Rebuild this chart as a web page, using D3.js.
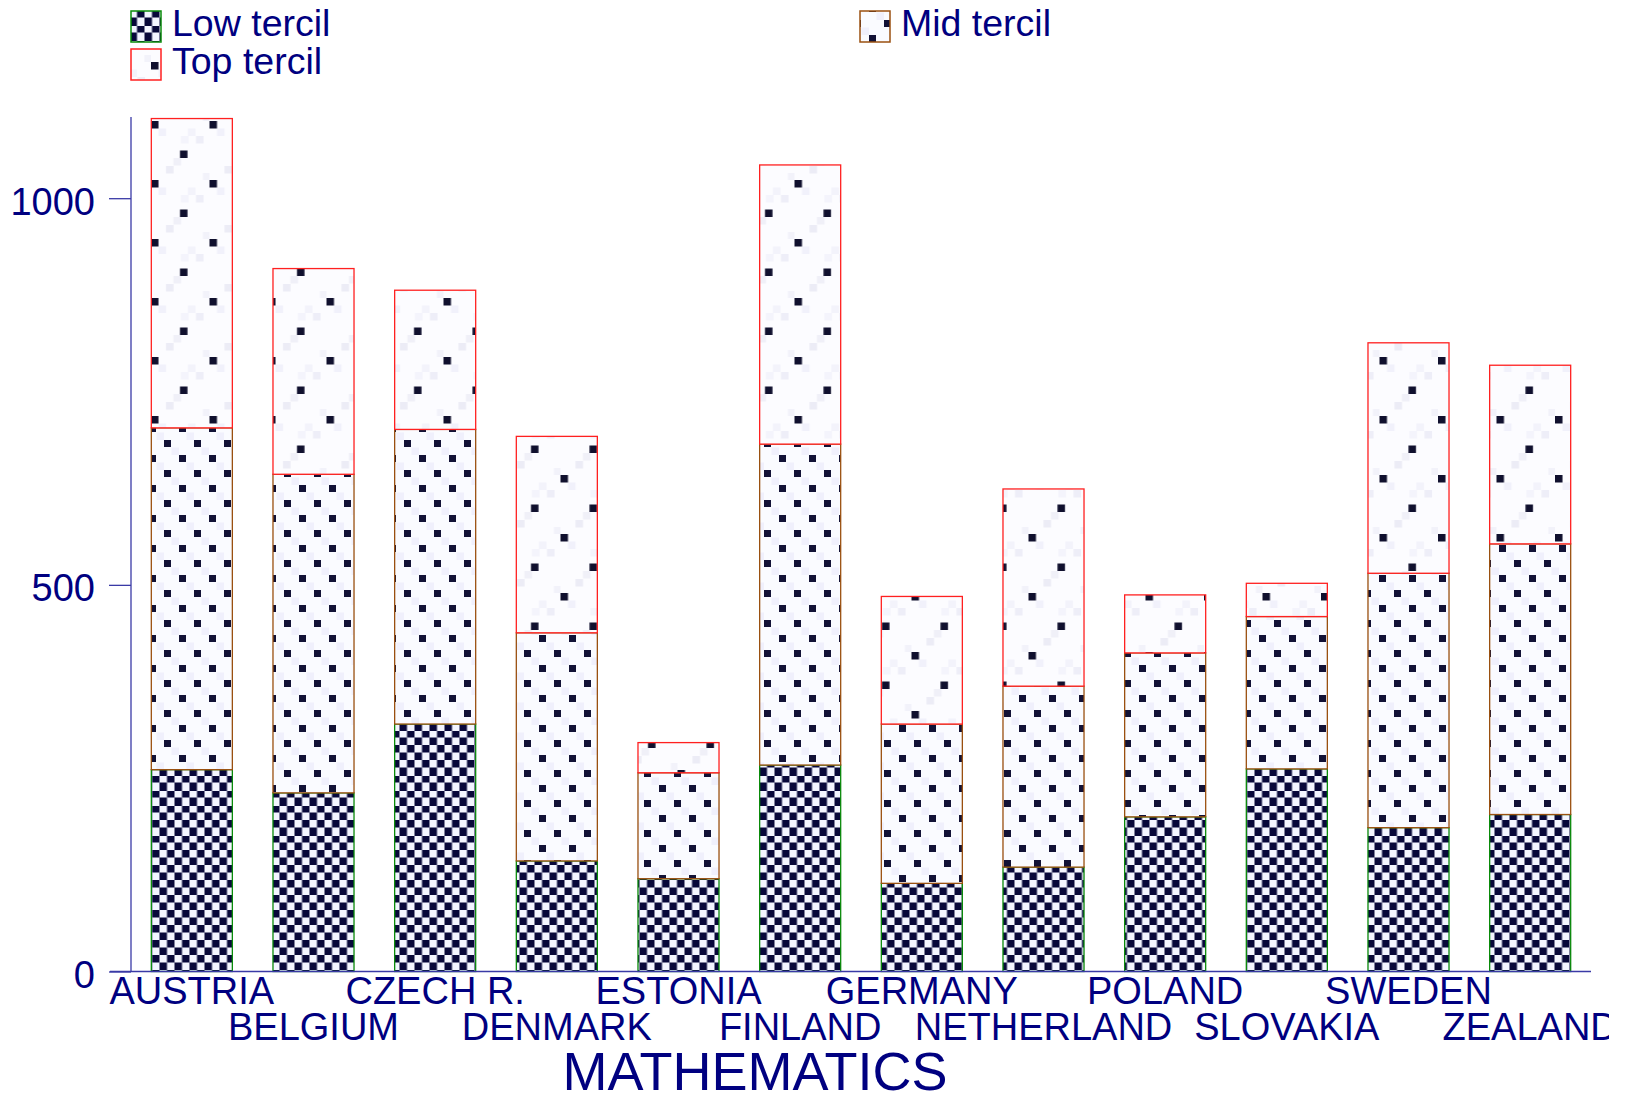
<!DOCTYPE html>
<html><head><meta charset="utf-8">
<script src="https://cdn.jsdelivr.net/npm/d3@7"></script>
<style>html,body{margin:0;padding:0;background:#fff;overflow:hidden}svg{display:block}</style>
</head><body>
<script>
const categories = ["AUSTRIA","BELGIUM","CZECH R.","DENMARK","ESTONIA","FINLAND","GERMANY","NETHERLAND","POLAND","SLOVAKIA","SWEDEN","ZEALAND"];
const lowTercil = [261, 231, 320, 143, 120, 267, 114, 135, 200, 262, 186, 203];
const midTercil = [442, 412, 381, 295, 137, 415, 206, 234, 212, 197, 329, 350];
const topTercil = [400, 266, 180, 254, 39, 361, 165, 255, 75, 43, 298, 231];
const seriesNames = ["Low tercil", "Mid tercil", "Top tercil"];
const yTicks = [0, 500, 1000];
const axisTitle = "MATHEMATICS";

const W = 1609, H = 1094;
const navy = "#000080";
const strokes = {"Low tercil": "#0a8a0a", "Mid tercil": "#9a5010", "Top tercil": "#ff2020"};
const patIds = {"Low tercil": "patLow", "Mid tercil": "patMid", "Top tercil": "patTop"};

const svg = d3.select("body").append("svg").attr("width", W).attr("height", H);
const defs = svg.append("defs");

// patterns
const pl = defs.append("pattern").attr("id", "patLow").attr("patternUnits", "userSpaceOnUse")
  .attr("x", 159.5).attr("y", 880).attr("width", 15).attr("height", 15);
pl.append("rect").attr("width", 15).attr("height", 15).attr("fill", "#f3f5ff");
pl.append("rect").attr("x", 0).attr("y", 7.5).attr("width", 7.5).attr("height", 7.5).attr("fill", "#08083a");
pl.append("rect").attr("x", 7.5).attr("y", 0).attr("width", 7.5).attr("height", 7.5).attr("fill", "#08083a");

const pm = defs.append("pattern").attr("id", "patMid").attr("patternUnits", "userSpaceOnUse")
  .attr("x", 164).attr("y", 560).attr("width", 30).attr("height", 30);
pm.append("rect").attr("width", 30).attr("height", 30).attr("fill", "#fafbff");
pm.append("rect").attr("x", 7.5).attr("y", 7.5).attr("width", 7.5).attr("height", 7.5).attr("fill", "#f0f0fc");
pm.append("rect").attr("x", 22.5).attr("y", 22.5).attr("width", 7.5).attr("height", 7.5).attr("fill", "#f0f0fc");
pm.append("rect").attr("x", 0).attr("y", 0).attr("width", 7).attr("height", 7).attr("fill", "#121236");
pm.append("rect").attr("x", 15).attr("y", 15).attr("width", 7).attr("height", 7).attr("fill", "#121236");

const pt = defs.append("pattern").attr("id", "patTop").attr("patternUnits", "userSpaceOnUse")
  .attr("x", 151).attr("y", 121).attr("width", 58.5).attr("height", 59);
pt.append("rect").attr("width", 58.5).attr("height", 59).attr("fill", "#fcfcff");
[[7.5,7.5,"#f1f1fb"],[37,7.5,"#f3f3fb"],[45,15,"#eeeef8"],[15,45,"#ececf6"],[22.5,37,"#f0f0f8"],[52,52,"#f2f2fa"],[30,15,"#f4f4fc"]]
  .forEach(([x,y,c]) => pt.append("rect").attr("x", x).attr("y", y).attr("width", 7.5).attr("height", 7.5).attr("fill", c));
pt.append("rect").attr("x", 0).attr("y", 0).attr("width", 7.5).attr("height", 7.5).attr("fill", "#10102e");
pt.append("rect").attr("x", 29).attr("y", 29.5).attr("width", 7.5).attr("height", 7.5).attr("fill", "#10102e");

// data table
const table = categories.map((c, i) => ({cat: c, "Low tercil": lowTercil[i], "Mid tercil": midTercil[i], "Top tercil": topTercil[i]}));
const stack = d3.stack().keys(seriesNames)(table);

const x = d3.scaleBand().domain(categories).range([131, 1591]).paddingInner(0.334).paddingOuter(0.167);
const y = d3.scaleLinear().domain([0, 1105]).range([971.5, 117]);

// bars
stack.forEach(layer => {
  svg.append("g").selectAll("rect").data(layer).join("rect")
    .attr("x", d => x(d.data.cat))
    .attr("y", d => y(d[1]))
    .attr("width", x.bandwidth())
    .attr("height", d => y(d[0]) - y(d[1]))
    .attr("fill", `url(#${patIds[layer.key]})`)
    .attr("stroke", strokes[layer.key])
    .attr("stroke-width", 1.3);
});

// y axis
const yAxis = d3.axisLeft(y).tickValues(yTicks).tickSize(22).tickPadding(14).tickFormat(d3.format("d"));
const gy = svg.append("g").attr("transform", "translate(131,0)").call(yAxis);
gy.select(".domain").attr("stroke", "#3a3aa6").attr("stroke-width", 1.3).attr("d", `M0,117V${y(0)}`);
gy.selectAll(".tick line").attr("stroke", "#3a3aa6").attr("stroke-width", 1.3);
gy.selectAll(".tick text").attr("fill", navy).attr("font-size", 38).attr("dy", "0.42em")
  .attr("font-family", "'Liberation Sans', Arial, Helvetica, sans-serif");

// x axis
const xAxis = d3.axisBottom(x).tickSize(0).tickPadding(0);
const gx = svg.append("g").attr("transform", `translate(0,${y(0)})`).call(xAxis);
gx.select(".domain").attr("stroke", "#3a3aa6").attr("stroke-width", 1.3).attr("d", "M110,0H1591");
gx.selectAll(".tick text").attr("fill", navy).attr("font-size", 38)
  .attr("font-family", "'Liberation Sans', Arial, Helvetica, sans-serif")
  .attr("y", (d, i) => i % 2 === 0 ? 32 : 68).attr("dy", 0);

// axis title
svg.append("text").attr("x", 755).attr("y", 1090).attr("text-anchor", "middle")
  .attr("fill", navy).attr("font-size", 54)
  .attr("font-family", "'Liberation Sans', Arial, Helvetica, sans-serif").text(axisTitle);

// legend
const legendPos = {"Low tercil": [131, 11], "Mid tercil": [860, 11], "Top tercil": [131, 49]};
seriesNames.forEach(k => {
  const [lx, ly] = legendPos[k];
  svg.append("rect").attr("x", lx).attr("y", ly).attr("width", 30).attr("height", 31)
    .attr("fill", `url(#${patIds[k]})`).attr("stroke", strokes[k]).attr("stroke-width", 1.5);
  svg.append("text").attr("x", lx + 41).attr("y", ly + 25).attr("fill", navy).attr("font-size", 37.5)
    .attr("font-family", "'Liberation Sans', Arial, Helvetica, sans-serif").text(k);
});
</script>
</body></html>
